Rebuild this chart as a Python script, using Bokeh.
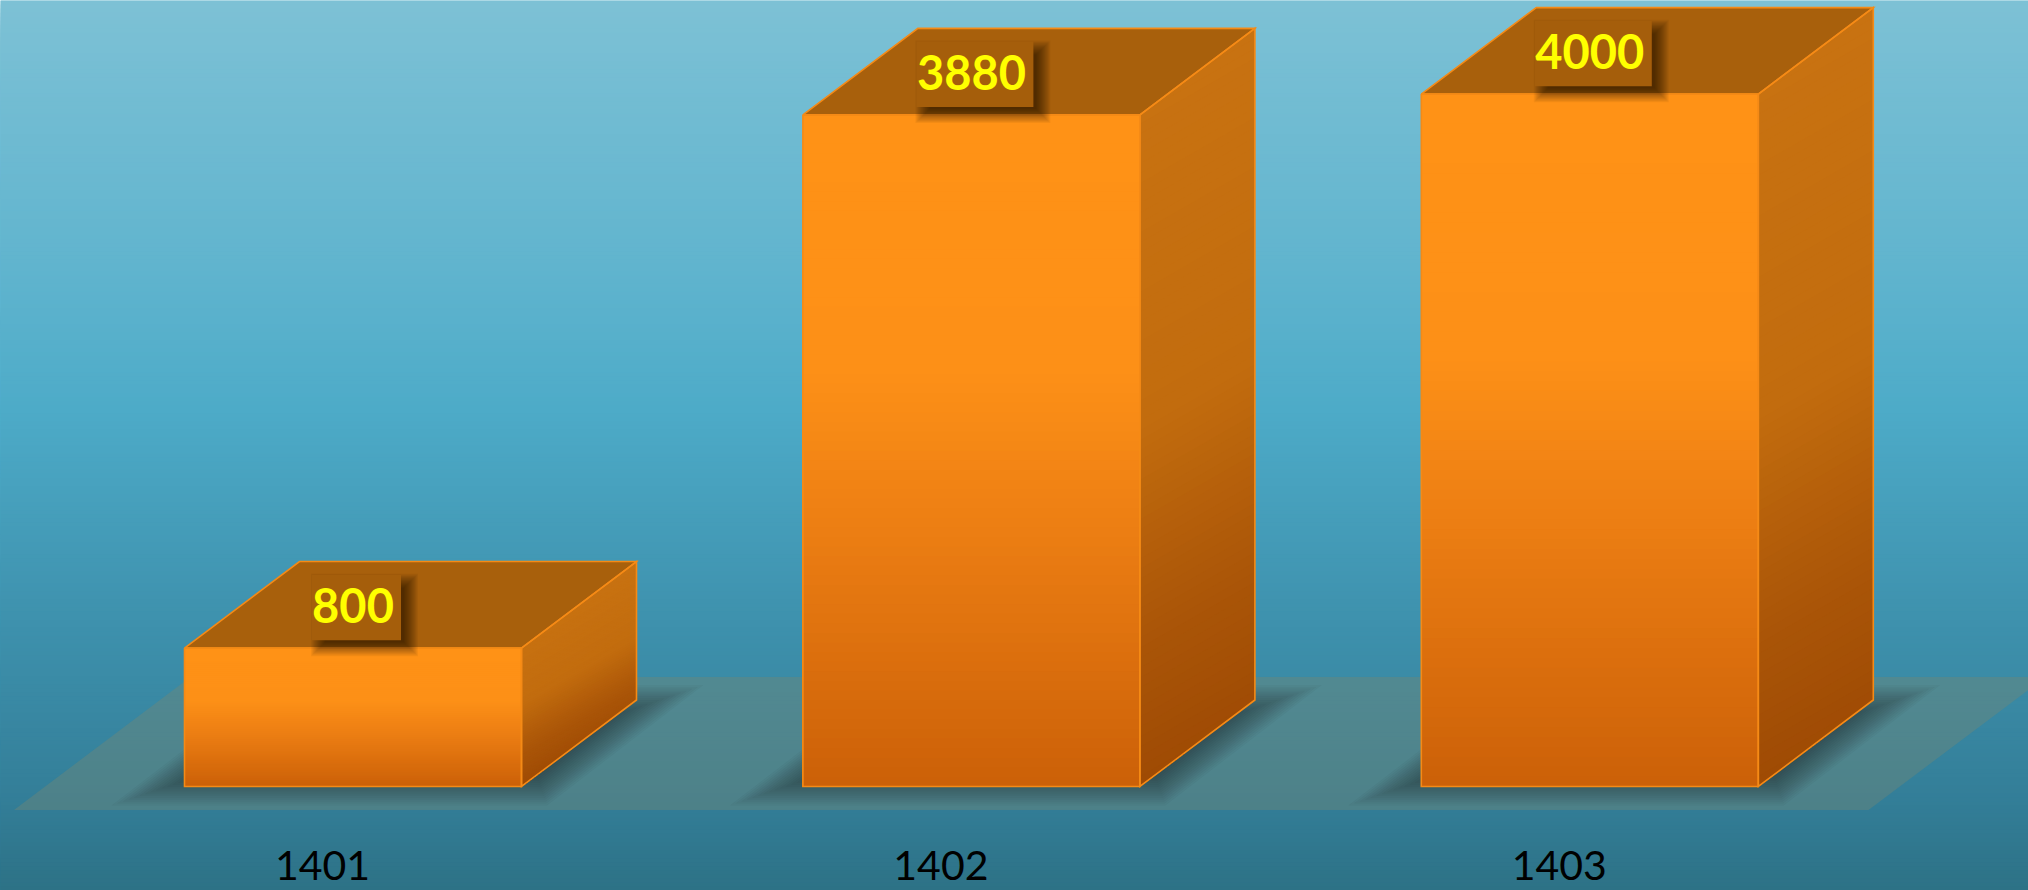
from bokeh.plotting import figure
from bokeh.models import Range1d
from bokeh.core.properties import value
from bokeh.embed import file_html
from bokeh.resources import INLINE

# ---- chart data ----
years = ["1401", "1402", "1403"]
amounts = [800, 3880, 4000]
amount_labels = ["800", "3880", "4000"]

# ---- layout (page pixels) ----
W, H = 2028, 890
MARGIN = 0
CAT_STEP = 618.4      # px per category
CAT0 = 322.0          # px of first category label
BASE = 786.0          # px of value zero
PX_PER_VALUE = 0.1731
BAR_W = 337.0
BAR_OFF = 30.5        # bar centre right of its label
DX, DY = 115.0, 86.5  # depth of the box
LABEL_Y = 865.0

def dx(px): return (px - CAT0) / CAT_STEP
def dy(py): return (BASE - py) / PX_PER_VALUE
def px(x): return x * CAT_STEP + CAT0
def py(y): return BASE - y * PX_PER_VALUE

x_range = Range1d(dx(MARGIN), dx(MARGIN + W))
y_range = Range1d(dy(MARGIN + H), dy(MARGIN))

p = figure(width=W, height=H, x_range=x_range, y_range=y_range,
           output_backend="svg", toolbar_location=None,
           x_axis_location=None, y_axis_location=None,
           min_border=0, outline_line_color=None)
p.grid.visible = False
p.background_fill_color = "#7dc1d5"
p.border_fill_color = None

def hex2rgb(c): return tuple(int(c[i:i + 2], 16) for i in (1, 3, 5))
def ramp(stops, t):
    for (t0, c0), (t1, c1) in zip(stops, stops[1:]):
        if t <= t1:
            f = 0 if t1 == t0 else max(0, (t - t0) / (t1 - t0))
            a, b = hex2rgb(c0), hex2rgb(c1)
            return "#%02x%02x%02x" % tuple(round(a[i] + (b[i] - a[i]) * f) for i in range(3))
    return stops[-1][1]

def clip(poly, nx, ny, t):
    """keep the part of a pixel polygon with nx*x+ny*y >= t"""
    out = []
    for i, (x0, y0) in enumerate(poly):
        x1, y1 = poly[(i + 1) % len(poly)]
        d0, d1 = nx * x0 + ny * y0 - t, nx * x1 + ny * y1 - t
        if d0 >= 0: out.append((x0, y0))
        if d0 * d1 < 0:
            f = d0 / (d0 - d1)
            out.append((x0 + (x1 - x0) * f, y0 + (y1 - y0) * f))
    return out

def gradient(poly, nx, ny, stops, n=70):
    ts = [nx * x + ny * y for x, y in poly]
    lo, hi = min(ts), max(ts)
    res = []
    for k in range(n):
        t = k / (n - 1)
        part = clip(poly, nx, ny, lo + (hi - lo) * k / n)
        if len(part) >= 3:
            res.append((part, ramp(stops, t)))
    return res

def inflate(poly, d):
    """offset a convex pixel polygon (clockwise on screen) by d"""
    n = len(poly)
    lines = []
    for i in range(n):
        x0, y0 = poly[i]; x1, y1 = poly[(i + 1) % n]
        ex, ey = x1 - x0, y1 - y0
        l = (ex * ex + ey * ey) ** .5
        nx, ny = ey / l, -ex / l
        lines.append((nx, ny, nx * x0 + ny * y0 + d))
    out = []
    for i in range(n):
        a1, b1, c1 = lines[i - 1]; a2, b2, c2 = lines[i]
        det = a1 * b2 - a2 * b1
        out.append(((c1 * b2 - c2 * b1) / det, (a1 * c2 - a2 * c1) / det))
    return out

class Layer:
    def __init__(self): self.xs, self.ys, self.c, self.a = [], [], [], []
    def add(self, poly, color, alpha=1.0):
        self.xs.append([dx(a) for a, _ in poly])
        self.ys.append([dy(b) for _, b in poly])
        self.c.append(color); self.a.append(alpha)
    def draw(self):
        p.patches(self.xs, self.ys, fill_color=self.c, fill_alpha=self.a, line_color=None)

def soft(layer, poly, color, total_alpha, radius, n=14):
    a = 1 - (1 - total_alpha) ** (1 / n)
    for k in range(n):
        layer.add(inflate(poly, radius - 2 * radius * k / (n - 1)), color, a)

# background
bg_stops = [(0, "#7dc1d5"), (.30, "#60b4ce"), (.46, "#4dabc8"), (.68, "#3f93af"),
            (.90, "#337e98"), (1, "#2d7286")]
bg = Layer()
for part, col in gradient([(0, 0), (2028, 0), (2028, 890), (0, 890)], 0, 1, bg_stops, 220):
    bg.add(part, col)
bg.draw()

# floor
floor = Layer()
floor.add([(13.5, 809.5), (1868, 809.5), (2045, 676.5), (190, 676.5)], "#768873", 0.40)
floor.draw()

front_stops = [(0, "#ff9216"), (.38, "#fd9017"), (.62, "#ec7e13"), (1, "#cc6108")]
side_stops = [(0, "#c87211"), (.48, "#c26c0e"), (.78, "#ab5608"), (1, "#9f4b04")]
TOP_COLOR = "#a8600c"
EDGE = "#f58a16"

shadows, sides, fronts, tops, boxshadows, boxes = Layer(), Layer(), Layer(), Layer(), Layer(), Layer()
edges_x, edges_y = [], []
text_x, text_y = [], []

for i, v in enumerate(amounts):
    c = CAT0 + i * CAT_STEP + BAR_OFF
    l, r = c - BAR_W / 2, c + BAR_W / 2
    b, t = py(0), py(v)

    # soft shadow on the floor
    soft(shadows, [(l - 26, b + 3), (l + DX - 26, b - DY + 1), (r + DX + 20, b - DY + 1), (r + 20, b + 3)],
         "#241418", 0.46, 16, 18)

    side = [(r, t), (r + DX, t - DY), (r + DX, b - DY), (r, b)]
    front = [(l, t), (r, t), (r, b), (l, b)]
    top = [(l, t), (l + DX, t - DY), (r + DX, t - DY), (r, t)]

    for part, col in gradient(side, .5, .87, side_stops):
        sides.add(part, col)
    for part, col in gradient(front, 0, 1, front_stops):
        fronts.add(part, col)
    tops.add(top, TOP_COLOR)
    for poly in (side, front, top):
        edges_x.append([dx(a) for a, _ in poly] + [dx(poly[0][0])])
        edges_y.append([dy(e) for _, e in poly] + [dy(poly[0][1])])

    # value label plate with a shadow
    mid = t - DY / 2
    n = len(amount_labels[i])
    half = (n * 28.0 + 5) / 2
    bl, br, bt, bb = c - half + 3.5, c + half + 3.5, mid - 30, mid + 35.5
    soft(boxshadows, [(bl + 6, bt + 6), (br + 10, bt + 6), (br + 10, bb + 9), (bl + 6, bb + 9)],
         "#000000", 0.50, 7, 14)
    boxes.add([(bl, bt), (br, bt), (br, bb), (bl, bb)], "#a55e0b")
    text_x.append(dx(c)); text_y.append(dy(mid + 1))

shadows.draw(); sides.draw(); fronts.draw(); tops.draw()
p.multi_line(edges_x, edges_y, line_color=EDGE, line_width=1.6, line_join="miter")
boxshadows.draw(); boxes.draw()

p.text(text_x, text_y, text=amount_labels, text_font=value("Lato"), text_font_style="bold",
       text_font_size="47px", text_color="#ffff00", text_align="center", text_baseline="middle")
p.text(list(range(len(years))), [dy(LABEL_Y)] * len(years), text=years, text_font=value("Lato"),
       text_font_size="41px", text_color="#000000", text_align="center", text_baseline="middle")

open("out.html", "w").write(file_html(p, INLINE))
